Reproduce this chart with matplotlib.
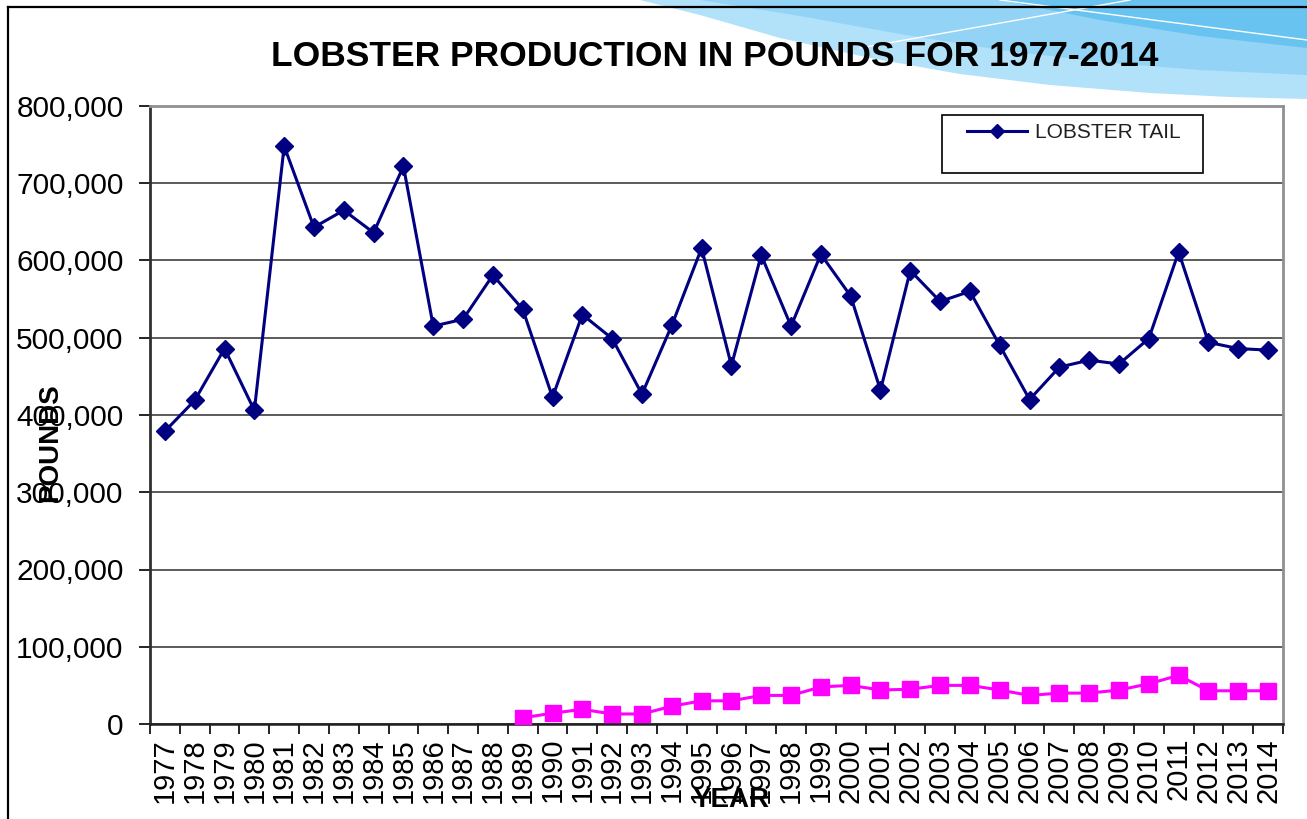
import matplotlib
matplotlib.use("Agg")
import matplotlib.pyplot as plt
from matplotlib.patches import Polygon, Rectangle
from matplotlib.lines import Line2D
from matplotlib.ticker import FuncFormatter, FixedLocator

years = [str(y) for y in range(1977, 2015)]
lobster_tail = [379000, 419000, 486000, 406000, 748000, 643000, 665000, 636000, 722000, 515000,
                524000, 581000, 537000, 423000, 530000, 499000, 427000, 516000, 616000, 464000,
                607000, 515000, 608000, 554000, 432000, 587000, 547000, 560000, 490000, 420000,
                462000, 471000, 466000, 499000, 611000, 494000, 486000, 484000]
whole_years = years[12:]
whole_lobster = [8000, 14000, 19000, 13000, 13000, 23000, 30000, 30000, 37000, 37000,
                 48000, 50000, 44000, 45000, 50000, 50000, 44000, 37000, 40000, 40000,
                 44000, 52000, 63000, 43000, 43000, 43000]

plt.rcParams['font.family'] = ['Liberation Sans', 'DejaVu Sans']

W, H = 1307, 819
fig = plt.figure(figsize=(W / 100, H / 100), dpi=100)
fig.patch.set_facecolor('white')

def P(x, y):
    return (x / W, 1 - y / H)

# decorative swoosh at top right
layers = [
    ('#b2e1fa', [(640, 0), (700, 15), (780, 38), (870, 58), (960, 74), (1050, 85), (1150, 93), (1230, 97), (1307, 99), (1307, 0)]),
    ('#92d3f6', [(700, 0), (800, 16), (900, 34), (1000, 50), (1100, 62), (1200, 70), (1307, 75), (1307, 0)]),
    ('#68c3f1', [(1000, 0), (1100, 20), (1200, 36), (1307, 48), (1307, 0)]),
]
for col, pts in layers:
    fig.patches.append(Polygon([P(*p) for p in pts], closed=True, transform=fig.transFigure,
                               facecolor=col, edgecolor='none', zorder=0))
for (x0, y0), (x1, y1) in [((860, 48), (1130, 0)), ((1000, 0), (1307, 40))]:
    fig.lines.append(Line2D([x0 / W, x1 / W], [1 - y0 / H, 1 - y1 / H], transform=fig.transFigure,
                            color='white', lw=1.0, zorder=1))
# frame lines
fig.lines.append(Line2D([8 / W, 1], [1 - 7 / H, 1 - 7 / H], transform=fig.transFigure, color='black', lw=1.6, zorder=2))
fig.lines.append(Line2D([8 / W, 8 / W], [0, 1 - 7 / H], transform=fig.transFigure, color='black', lw=1.6, zorder=2))

ax = fig.add_axes([150 / W, 1 - 724 / H, (1283 - 150) / W, (724 - 106) / H])
ax.set_facecolor('white')

x_all = list(range(len(years)))
x_whole = [years.index(y) for y in whole_years]

ax.plot(x_all, lobster_tail, color='#000080', lw=2.2, marker='D', markersize=9,
        markerfacecolor='#000080', markeredgecolor='#000080', zorder=5, label='LOBSTER TAIL')
ax.plot(x_whole, whole_lobster, color='#ff00ff', lw=2.2, marker='s', markersize=12,
        markerfacecolor='#ff00ff', markeredgecolor='#ff00ff', zorder=5)

ax.set_xlim(-0.5, len(years) - 0.5)
ax.set_ylim(0, 800000)
ax.set_yticks(range(0, 800001, 100000))
ax.yaxis.set_major_formatter(FuncFormatter(lambda v, p: f"{int(v):,}"))
ax.grid(axis='y', color='#404040', lw=1.2, zorder=1)
ax.set_axisbelow(True)

ax.xaxis.set_major_locator(FixedLocator([i - 0.5 for i in range(len(years) + 1)]))
ax.set_xticklabels([], minor=False)
ax.set_xticks(x_all, minor=True)
ax.set_xticklabels(years, minor=True, rotation=90, fontsize=21, va='top', ha='center')
ax.tick_params(axis='x', which='major', length=7, width=1.2, direction='out', color='black')
ax.tick_params(axis='x', which='minor', length=0, pad=10)
ax.tick_params(axis='y', length=8, width=1.2, direction='out', pad=11, labelsize=21.5, color='black')

for side in ['top', 'right']:
    ax.spines[side].set_color('#909090')
    ax.spines[side].set_linewidth(2)
ax.spines['left'].set_color('#303030')
ax.spines['left'].set_linewidth(2)
ax.spines['bottom'].set_color('#202020')
ax.spines['bottom'].set_linewidth(1.8)

fig.text(715 / W, 1 - 57 / H, 'LOBSTER PRODUCTION IN POUNDS FOR 1977-2014', ha='center', va='center',
         fontsize=25.5, fontweight='bold', color='black')
fig.text(50 / W, 1 - 443 / H, 'POUNDS', rotation=90, ha='center', va='center',
         fontsize=20, fontweight='bold', color='black')
fig.text(731 / W, 1 - 800 / H, 'YEAR', ha='center', va='center',
         fontsize=20, fontweight='bold', color='black')

# legend
ax.add_patch(Rectangle(((942 - 150) / 1133, (724 - 173) / 618), (1203 - 942) / 1133, (173 - 115) / 618,
                       transform=ax.transAxes, facecolor='white', edgecolor='black', lw=1.2, zorder=6))
leg = ax.legend(loc='center left', bbox_to_anchor=((967 - 150) / 1133, (724 - 133) / 618),
                frameon=False, fontsize=15, handlelength=2.9, handletextpad=0.35,
                borderpad=0, borderaxespad=0, markerscale=0.75)
leg.set_zorder(7)
for t in leg.get_texts():
    t.set_color('#202020')

fig.savefig('out.png', dpi=100, facecolor='white')
